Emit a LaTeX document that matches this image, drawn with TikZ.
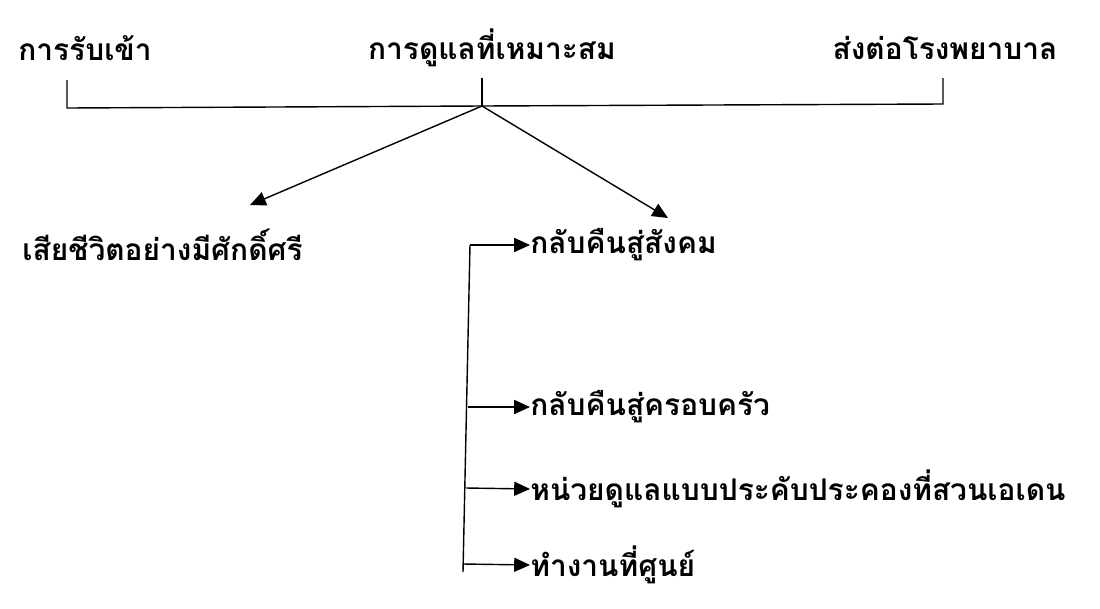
\documentclass[tikz,border=0pt]{standalone}
\usepackage{fontspec}
\newfontfamily\thaifont[Script=Thai]{Loma}
\usetikzlibrary{arrows.meta}
\tikzset{
 lbl/.style={font=\thaifont\bfseries\fontsize{17}{20}\selectfont, inner sep=0pt},
 link/.style={line width=0.8pt},
 arr/.style={link, -{Triangle[length=9pt,width=8pt]}}
}
\begin{document}
\begin{tikzpicture}[x=0.02cm,y=-0.02cm]
\useasboundingbox (0,0) rectangle (1100,609);

% top row
\node[lbl] (admit) at (85,48) {การรับเข้า};
\node[lbl] (care) at (492,48) {การดูแลที่เหมาะสม};
\node[lbl] (refer) at (945,48) {ส่งต่อโรงพยาบาล};

\coordinate (tl) at (67,80);
\coordinate (bl) at (67,108);
\coordinate (tm) at (482,78);
\coordinate (bm) at (482,106);
\coordinate (tr) at (943,78);
\coordinate (br) at (943,104);
\draw[link] (tl) -- (bl) -- (bm) -- (br) -- (tr);
\draw[link] (tm) -- (bm);

% outcomes
\node[lbl, anchor=west] (dignity) at (22,245) {เสียชีวิตอย่างมีศักดิ์ศรี};
\node[lbl, anchor=west] (society) at (530,245) {กลับคืนสู่สังคม};
\node[lbl, anchor=west] (family) at (530,407) {กลับคืนสู่ครอบครัว};
\node[lbl, anchor=west] (eden) at (530,489) {หน่วยดูแลแบบประคับประคองที่สวนเอเดน};
\node[lbl, anchor=west] (work) at (530,565) {ทำงานที่ศูนย์};

\draw[arr] (bm) -- (250,205);
\draw[arr] (bm) -- (668,218);

% branch line
\coordinate (v1) at (470,245);
\coordinate (v2) at (468,407);
\coordinate (v3) at (466,488);
\coordinate (v4) at (463,564);
\coordinate (v5) at (463,572);
\draw[link] (v1) -- (v5);
\draw[arr] (v1) -- (society.west);
\draw[arr] (v2) -- (family.west);
\draw[arr] (v3) -- (eden.west);
\draw[arr] (v4) -- (work.west);
\end{tikzpicture}
\end{document}
